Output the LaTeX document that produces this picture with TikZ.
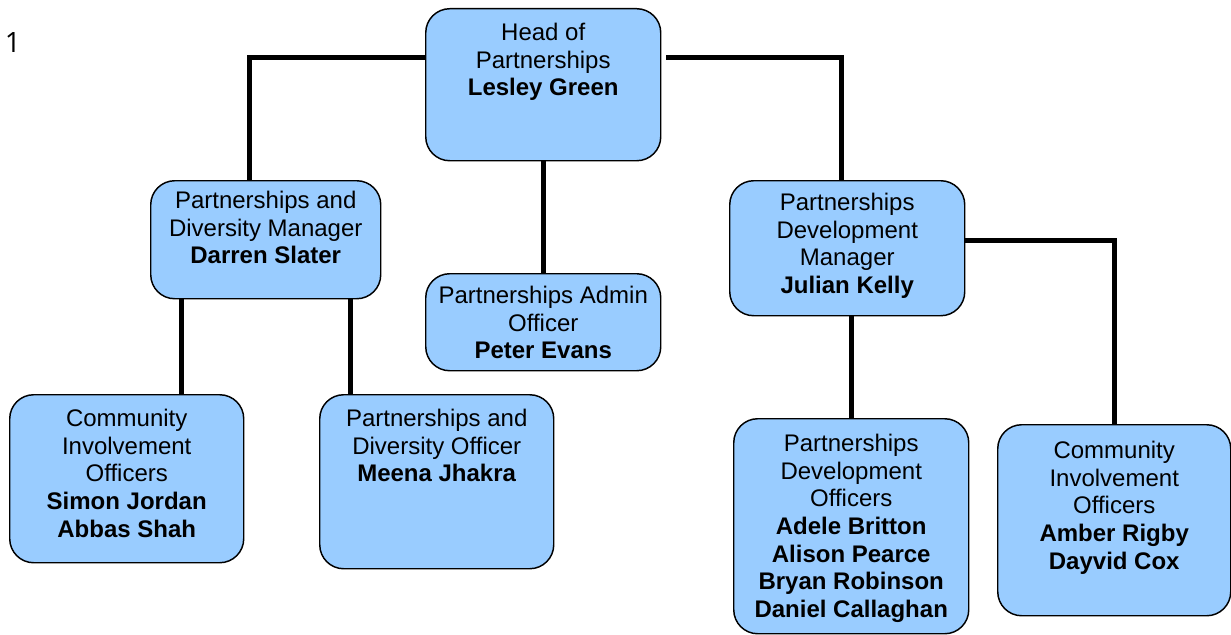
\documentclass[tikz,border=0pt]{standalone}
\usepackage{fontspec}
\setmainfont{Liberation Sans}
\newfontfamily\numfont{Open Sans}
\definecolor{azzurro}{RGB}{153,204,255}
\def\px{0.75pt}
\tikzstyle{org chart}=[
    x=0.75pt, y=-0.75pt,
    post box/.style={rectangle, rounded corners=18pt, draw=black, line width=1.1pt, fill=azzurro, inner sep=0pt},
    post text/.style={font={\fontsize{18}{20.7}\selectfont}, align=center, inner sep=0pt, anchor=north},
    link/.style={black, line width=3.75pt},
]
\newcommand{\post}[7][14]{
    \node[post box, anchor=north west, minimum width=#5*\px, minimum height=#6*\px] (#2) at (#3,#4) {};
    \node[post text, yshift=-#1*\px] (#2 text) at (#2.north) {#7};
}

\begin{document}
\begin{tikzpicture}[org chart]
    \useasboundingbox (0,0) rectangle (1231,635);

    \node[font={\numfont\fontsize{21}{24}\selectfont}, inner sep=0pt] (page num) at (13,43) {1};

    \post[15]{head}{425}{8}{235}{152}{Head of\\Partnerships\\\textbf{Lesley Green}}
    \post[11]{pdm}{150}{180}{230}{118}{Partnerships and\\Diversity Manager\\\textbf{Darren Slater}}
    \post[13]{admin}{425}{273}{235}{97}{Partnerships Admin\\Officer\\\textbf{Peter Evans}}
    \post[13]{devm}{729}{180}{235}{135}{Partnerships\\Development\\Manager\\\textbf{Julian Kelly}}
    \post[15]{cio left}{9}{394}{234}{168}{Community\\Involvement\\Officers\\\textbf{Simon Jordan}\\\textbf{Abbas Shah}}
    \post[15]{pdo}{319}{394}{234}{174}{Partnerships and\\Diversity Officer\\\textbf{Meena Jhakra}}
    \post[16]{devo}{733}{418}{235}{215}{Partnerships\\Development\\Officers\\\textbf{Adele Britton}\\\textbf{Alison Pearce}\\\textbf{Bryan Robinson}\\\textbf{Daniel Callaghan}}
    \post[17]{cio right}{997}{424}{233}{191}{Community\\Involvement\\Officers\\\textbf{Amber Rigby}\\\textbf{Dayvid Cox}}

    % reporting lines
    \draw[link] ([yshift=-50*\px]head.north west) -| ([xshift=-16*\px]pdm.north);
    \draw[link] ([xshift=5*\px,yshift=-50*\px]head.north east) -| ([xshift=-6*\px]devm.north);
    \draw[link] (head.south) -- (admin.north);
    \draw[link] ([xshift=31*\px]pdm.south west) -- ([xshift=31*\px]pdm.south west |- cio left.north);
    \draw[link] ([xshift=-31*\px]pdm.south east) -- ([xshift=-31*\px]pdm.south east |- pdo.north);
    \draw[link] (devo.north |- devm.south) -- (devo.north);
    \draw[link] ([yshift=6pt]devm.east) -| (cio right.north);
\end{tikzpicture}
\end{document}
